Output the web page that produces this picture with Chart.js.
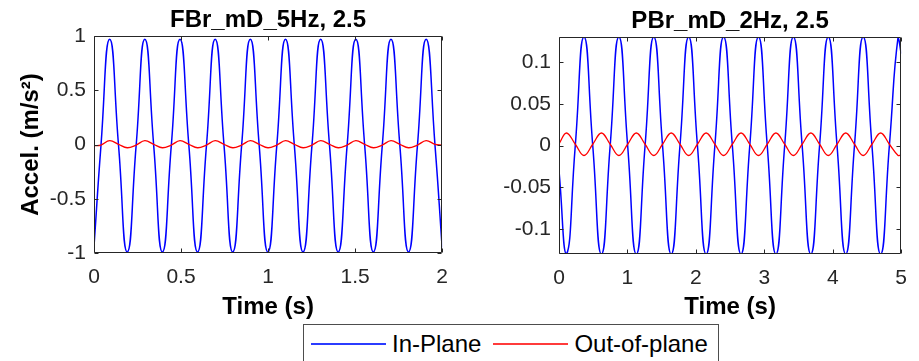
<!DOCTYPE html>
<html>
<head>
<meta charset="utf-8">
<script src="https://cdn.jsdelivr.net/npm/chart.js@4.4.1/dist/chart.umd.min.js"></script>
<style>
  body { margin: 0; background: #fff; width: 919px; height: 361px; overflow: hidden; position: relative; font-family: "Liberation Sans", Arial, sans-serif; }
  canvas { position: absolute; top: 0; }
  #left { left: 0; }
  #right { left: 460px; }
  #legend { position: absolute; left: 303px; top: 324px; width: 414px; height: 38px; border: 1px solid #4d4d4d; background: #fff;
            display: flex; align-items: center; font-size: 24px; color: #000; }
  #legend .ln { display: inline-block; width: 75px; height: 1.5px; }
</style>
</head>
<body>
<canvas id="left" width="460" height="322"></canvas>
<canvas id="right" width="459" height="322"></canvas>
<div id="legend">
  <span class="ln" style="background:#2b3cff; margin-left:7px"></span><span style="margin-left:6px">In-Plane</span>
  <span class="ln" style="background:#ff3b3b; margin-left:12px"></span><span style="margin-left:6px">Out-of-plane</span>
</div>
<script>
// ---- left panel: FBr_mD_5Hz ----
const leftTitle = 'FBr_mD_5Hz, 2.5';
const leftTime = [0, 0.040, 0.090, 0.141, 0.191, 0.242, 0.292, 0.343, 0.393, 0.444, 0.494,
  0.545, 0.595, 0.646, 0.696, 0.747, 0.797, 0.848, 0.898, 0.949, 0.999,
  1.050, 1.100, 1.151, 1.201, 1.252, 1.302, 1.353, 1.403, 1.454, 1.504,
  1.555, 1.605, 1.656, 1.706, 1.757, 1.807, 1.858, 1.908, 1.959, 2.000];
const leftInPlane = [-0.94, -0.01, 0.97, -0.01, -0.99, -0.01, 0.97, -0.01, -0.99, -0.01, 0.97,
  -0.01, -0.99, -0.01, 0.97, -0.01, -0.99, -0.01, 0.97, -0.01, -0.99,
  -0.01, 0.97, -0.01, -0.99, -0.01, 0.97, -0.01, -0.99, -0.01, 0.97,
  -0.01, -0.99, -0.01, 0.97, -0.01, -0.99, -0.01, 0.97, -0.01, -0.95];
const leftOutPlane = [-0.01, -0.005, 0.035, 0.002, -0.03, -0.005, 0.035, 0.002, -0.03, -0.005, 0.035,
  0.002, -0.03, -0.005, 0.035, 0.002, -0.03, -0.005, 0.035, 0.002, -0.03,
  -0.005, 0.035, 0.002, -0.03, -0.005, 0.035, 0.002, -0.03, -0.005, 0.035,
  0.002, -0.03, -0.005, 0.035, 0.002, -0.03, -0.005, 0.035, 0.002, -0.005];
const leftXTicks = [0, 0.5, 1, 1.5, 2];
const leftYTicks = [-1, -0.5, 0, 0.5, 1];

// ---- right panel: PBr_mD_2Hz ----
const rightTitle = 'PBr_mD_2Hz, 2.5';
const rightTime = [0, 0.110, 0.238, 0.365, 0.493, 0.620, 0.748, 0.875, 1.003, 1.130,
  1.258, 1.385, 1.513, 1.640, 1.768, 1.895, 2.023, 2.150, 2.278, 2.405,
  2.533, 2.660, 2.788, 2.915, 3.043, 3.170, 3.298, 3.425, 3.553, 3.680,
  3.808, 3.935, 4.063, 4.190, 4.318, 4.445, 4.573, 4.700, 4.828, 4.955, 5.000];
const rightInPlane = [-0.03, -0.13, 0, 0.13, 0, -0.13, 0, 0.13, 0, -0.13,
  0, 0.13, 0, -0.13, 0, 0.13, 0, -0.13, 0, 0.13,
  0, -0.13, 0, 0.13, 0, -0.13, 0, 0.13, 0, -0.13,
  0, 0.13, 0, -0.13, 0, 0.13, 0, -0.13, 0, 0.13, 0.11];
const rightOutPlane = [0.002, 0.015, 0.0015, -0.012, 0.0015, 0.015, 0.0015, -0.012, 0.0015, 0.015,
  0.0015, -0.012, 0.0015, 0.015, 0.0015, -0.012, 0.0015, 0.015, 0.0015, -0.012,
  0.0015, 0.015, 0.0015, -0.012, 0.0015, 0.015, 0.0015, -0.012, 0.0015, 0.015,
  0.0015, -0.012, 0.0015, 0.015, 0.0015, -0.012, 0.0015, 0.015, 0.0015, -0.012, -0.011];
const rightXTicks = [0, 1, 2, 3, 4, 5];
const rightYTicks = [-0.1, -0.05, 0, 0.05, 0.1];

const FONT = '"Liberation Sans", Arial, sans-serif';
const AXIS_COLOR = '#262626';

function pairs(xs, ys) {
  return xs.map((x, i) => ({ x: x, y: ys[i] }));
}

// matlab style box with inward tick marks on all four sides
const boxPlugin = {
  id: 'matlabBox',
  afterDatasetsDraw(chart) {
    const ctx = chart.ctx;
    const a = chart.chartArea;
    const x = chart.scales.x, y = chart.scales.y;
    const L = Math.round(a.left) + 0.5, R = Math.round(a.right) - 0.5;
    const T = Math.round(a.top) + 0.5, B = Math.round(a.bottom) - 0.5;
    ctx.save();
    ctx.strokeStyle = AXIS_COLOR;
    ctx.lineWidth = 1;
    ctx.beginPath();
    x.ticks.forEach(t => {
      const px = Math.round(x.getPixelForValue(t.value)) + 0.5;
      ctx.moveTo(px, B); ctx.lineTo(px, B - 4);
      ctx.moveTo(px, T); ctx.lineTo(px, T + 4);
    });
    y.ticks.forEach(t => {
      const py = Math.round(y.getPixelForValue(t.value)) + 0.5;
      ctx.moveTo(L, py); ctx.lineTo(L + 4, py);
      ctx.moveTo(R, py); ctx.lineTo(R - 4, py);
    });
    ctx.rect(L, T, R - L, B - T);
    ctx.stroke();
    ctx.restore();
  }
};

function makeChart(id, cfg) {
  const ctx = document.getElementById(id).getContext('2d');
  return new Chart(ctx, {
    type: 'line',
    data: {
      datasets: [{
        label: 'In-Plane',
        data: pairs(cfg.time, cfg.inPlane),
        borderColor: '#0000ff',
        borderWidth: 1.5,
        pointRadius: 0,
        tension: 0.55,
        order: 1
      }, {
        label: 'Out-of-plane',
        data: pairs(cfg.time, cfg.outPlane),
        borderColor: '#ff0000',
        borderWidth: 1.3,
        pointRadius: 0,
        tension: 0.4,
        order: 0
      }]
    },
    options: {
      responsive: false,
      animation: false,
      devicePixelRatio: 1,
      layout: { padding: { left: 0, right: cfg.padRight, top: 0, bottom: 0 } },
      plugins: {
        legend: { display: false },
        tooltip: { enabled: false },
        title: {
          display: true,
          text: cfg.title,
          fullSize: false,
          color: '#000',
          font: { family: FONT, size: 24, weight: 'bold' },
          padding: { top: cfg.titleTop, bottom: 1.2 }
        }
      },
      scales: {
        x: {
          type: 'linear',
          min: cfg.xTicks[0],
          max: cfg.xTicks[cfg.xTicks.length - 1],
          afterBuildTicks: s => { s.ticks = cfg.xTicks.map(v => ({ value: v })); },
          afterFit: s => { s.height = cfg.xHeight; },
          grid: { display: false, drawTicks: false },
          border: { display: false },
          ticks: {
            color: AXIS_COLOR,
            font: { family: FONT, size: 21 },
            padding: 12,
            maxRotation: 0,
            callback: v => String(v)
          },
          title: {
            display: true,
            text: 'Time (s)',
            color: '#000',
            font: { family: FONT, size: 24, weight: 'bold' },
            padding: { top: 0, bottom: 0 }
          }
        },
        y: {
          min: cfg.yMin,
          max: cfg.yMax,
          afterBuildTicks: s => { s.ticks = cfg.yTicks.map(v => ({ value: v })); },
          afterFit: s => { s.width = cfg.yWidth; },
          grid: { display: false, drawTicks: false },
          border: { display: false },
          ticks: {
            color: AXIS_COLOR,
            font: { family: FONT, size: 21 },
            padding: 8,
            callback: v => String(v)
          },
          title: {
            display: cfg.yLabel !== '',
            text: cfg.yLabel,
            color: '#000',
            font: { family: FONT, size: 24, weight: 'bold' },
            padding: { top: 16.6, bottom: 0 }
          }
        }
      }
    },
    plugins: [boxPlugin]
  });
}

makeChart('left', {
  title: leftTitle, time: leftTime, inPlane: leftInPlane, outPlane: leftOutPlane,
  xTicks: leftXTicks, yTicks: leftYTicks, yMin: -1, yMax: 1,
  yLabel: 'Accel. (m/s²)', padRight: 13, titleTop: 6, xHeight: 69, yWidth: 94
});

makeChart('right', {
  title: rightTitle, time: rightTime, inPlane: rightInPlane, outPlane: rightOutPlane,
  xTicks: rightXTicks, yTicks: rightYTicks, yMin: -0.13, yMax: 0.13,
  yLabel: '', padRight: 7, titleTop: 7, xHeight: 68, yWidth: 99
});
</script>
</body>
</html>
